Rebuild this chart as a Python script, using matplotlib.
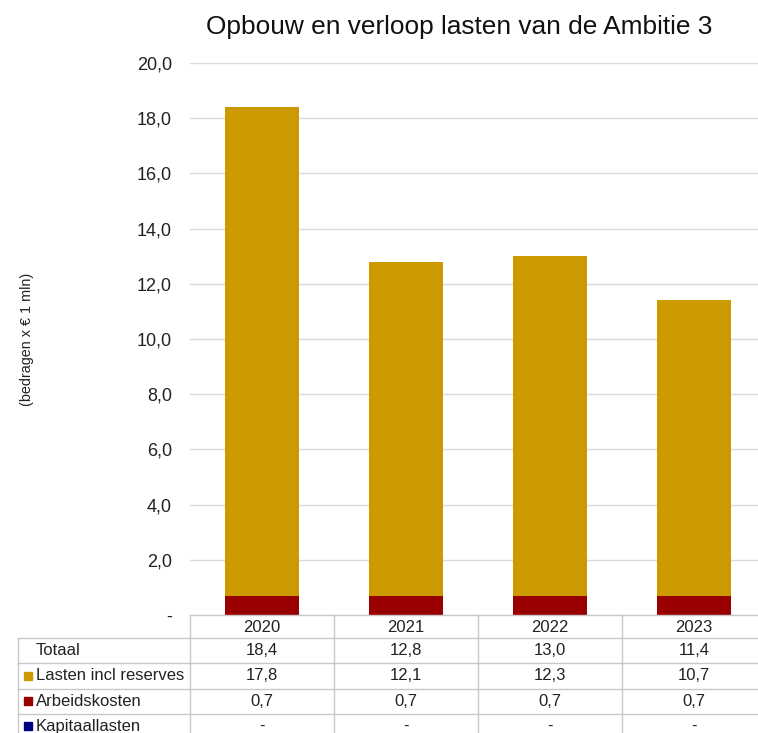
import matplotlib
matplotlib.use("Agg")
import matplotlib.pyplot as plt
from matplotlib import transforms
from matplotlib.patches import Rectangle

plt.rcParams['font.family'] = ['Liberation Sans', 'DejaVu Sans']

years = ["2020", "2021", "2022", "2023"]
totaal = [18.4, 12.8, 13.0, 11.4]
lasten = [17.8, 12.1, 12.3, 10.7]
arbeid = [0.7, 0.7, 0.7, 0.7]
kapitaal = [0.0, 0.0, 0.0, 0.0]
yticks = [0, 2, 4, 6, 8, 10, 12, 14, 16, 18, 20]

c_gold = "#CC9900"
c_red = "#990000"
c_navy = "#000080"
grid_c = "#D9D9D9"

W, H = 758, 733
fig = plt.figure(figsize=(W / 100, H / 100), dpi=100)
fig.patch.set_facecolor("white")

def fy(p):
    return 1 - p / H

ax = fig.add_axes([190 / W, fy(615), 576 / W, (615 - 63) / H])
ax.set_xlim(-0.5, 3.5)
ax.set_ylim(0, 20)
x = list(range(len(years)))
bw = 0.52
# stacked bars: Kapitaallasten (0), Arbeidskosten, Lasten (top up to totaal)
ax.bar(x, kapitaal, bw, color=c_navy, zorder=3)
ax.bar(x, arbeid, bw, bottom=kapitaal, color=c_red, zorder=3)
ax.bar(x, [t - a - k for t, a, k in zip(totaal, arbeid, kapitaal)], bw,
       bottom=[a + k for a, k in zip(arbeid, kapitaal)], color=c_gold, zorder=3)

ax.set_yticks(yticks)
ax.set_yticklabels(["-" if v == 0 else f"{v:.1f}".replace(".", ",") for v in yticks],
                   fontsize=13, color="#222222")
ax.tick_params(axis="y", length=0, pad=13)
ax.set_xticks([])
for v in yticks[1:]:
    ax.axhline(v, color=grid_c, lw=1, zorder=1)
for s in ax.spines.values():
    s.set_visible(False)
ax.set_facecolor("none")

fig.text(459 / W, fy(27), "Opbouw en verloop lasten van de Ambitie 3",
         ha="center", va="center", fontsize=18.9, color="#111111")
fig.text(27 / W, fy(339), "(bedragen x € 1 mln)", rotation=90,
         ha="center", va="center", fontsize=10.4, color="#222222")

# table
tr = transforms.blended_transform_factory(ax.transData, fig.transFigure)
line_c = "#C8C8C8"
row_tops = [615, 638, 663, 689, 714, 739]
left_lab = 18 / W
fig.add_artist(plt.Line2D([-0.5, 3.5], [fy(615), fy(615)], transform=tr, color=line_c, lw=1))
for yy in row_tops[1:5]:
    fig.add_artist(plt.Line2D([left_lab, 1.0], [fy(yy), fy(yy)],
                              transform=fig.transFigure, color=line_c, lw=1))
fig.add_artist(plt.Line2D([left_lab, left_lab], [fy(638), 0], transform=fig.transFigure, color=line_c, lw=1))
for i in range(len(years) + 1):
    fig.add_artist(plt.Line2D([i - 0.5, i - 0.5], [fy(615), 0], transform=tr, color=line_c, lw=1))

fs = 12
for i, yr in enumerate(years):
    fig.text(i, fy(627), yr, transform=tr, ha="center", va="center", fontsize=fs, color="#222222")

def fmt(v):
    return "-" if v == 0 else f"{v:.1f}".replace(".", ",")

rows = [("Totaal", totaal, None), ("Lasten incl reserves", lasten, c_gold),
        ("Arbeidskosten", arbeid, c_red), ("Kapitaallasten", kapitaal, c_navy)]
for r, (lab, vals, col) in enumerate(rows):
    yc = (row_tops[r + 1] + row_tops[r + 2]) / 2
    fig.text(36 / W, fy(yc), lab, ha="left", va="center", fontsize=fs, color="#222222")
    if col is not None:
        fig.add_artist(Rectangle((24 / W, fy(yc + 3.5)), 8 / W, 8 / H,
                                 transform=fig.transFigure, color=col))
    for i, v in enumerate(vals):
        fig.text(i, fy(yc), fmt(v), transform=tr, ha="center", va="center",
                 fontsize=fs, color="#222222")

fig.savefig("out.png", dpi=100, facecolor="white")
